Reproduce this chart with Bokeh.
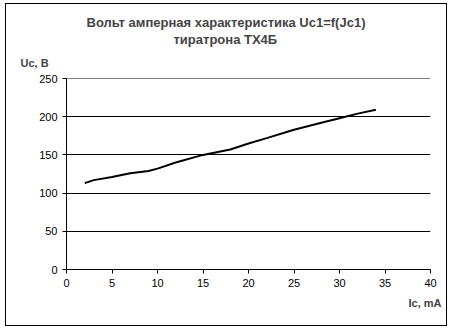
from bokeh.plotting import figure
from bokeh.models import Range1d, FixedTicker, Title, Span
from bokeh.embed import file_html
from bokeh.resources import INLINE

ic_ma = [2, 3, 5, 7, 9, 10, 12, 15, 18, 20, 22, 25, 28, 30, 32, 34]
uc_v = [113, 117, 121, 126, 129, 132, 140, 150, 157, 165, 172, 183, 192, 198, 204, 209]
x_ticks = [0, 5, 10, 15, 20, 25, 30, 35, 40]
y_ticks = [0, 50, 100, 150, 200, 250]
title_lines = ["Вольт амперная характеристика Uc1=f(Jc1)", "тиратрона ТХ4Б"]
y_label = "Uc, B"
x_label = "Ic, mA"

FONT = "Liberation Sans"

p = figure(width=442, height=323, output_backend="svg", toolbar_location=None,
           x_range=Range1d(0, 40), y_range=Range1d(0, 250),
           min_border_left=60, min_border_right=18, min_border_top=74, min_border_bottom=58)
p.styles = {"margin-left": "5px", "margin-top": "3px", "border": "1px solid black"}
p.outline_line_color = None
p.background_fill_color = "white"
p.border_fill_color = "white"

p.xgrid.grid_line_color = None
p.ygrid.grid_line_color = "black"
p.ygrid.grid_line_width = 1
p.xaxis.ticker = FixedTicker(ticks=x_ticks)
p.yaxis.ticker = FixedTicker(ticks=y_ticks)
for ax in (p.xaxis, p.yaxis):
    ax.axis_line_color = "black"
    ax.major_tick_line_color = "black"
    ax.minor_tick_line_color = None
    ax.major_tick_out = 4
    ax.major_tick_in = 0
    ax.major_label_text_font = FONT
    ax.major_label_text_font_size = "11px"
    ax.major_label_text_color = "black"
p.xaxis.major_label_standoff = 5
p.yaxis.major_label_standoff = 5

p.add_layout(Span(location=y_ticks[-1], dimension="width", line_color="black", line_width=1))

p.line(ic_ma, uc_v, line_color="black", line_width=2)

# titles above (added innermost first)
p.add_layout(Title(text=y_label, align="left", offset=-46, text_font=FONT, text_font_style="bold",
                   text_font_size="11px", standoff=19), "above")
p.add_layout(Title(text=title_lines[1], align="left", offset=107, text_font=FONT, text_font_style="bold",
                   text_font_size="13px", standoff=-2), "above")
p.add_layout(Title(text=title_lines[0], align="left", offset=20, text_font=FONT, text_font_style="bold",
                   text_font_size="13px", standoff=2), "above")
p.add_layout(Title(text=x_label, align="right", offset=-11, text_font=FONT, text_font_style="bold",
                   text_font_size="11px", standoff=10), "below")

open("out.html", "w").write(file_html(p, INLINE))
